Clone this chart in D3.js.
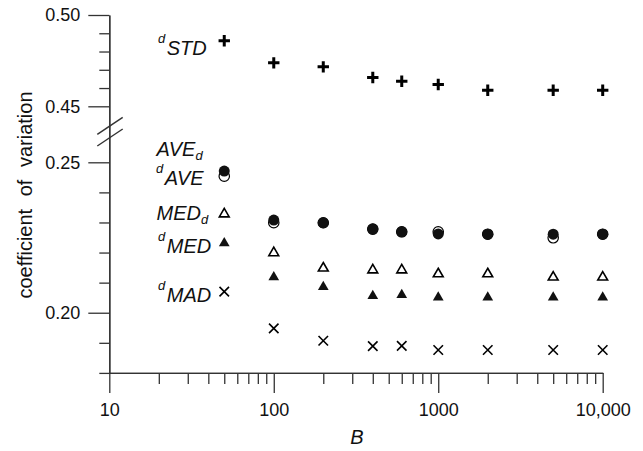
<!DOCTYPE html>
<html>
<head>
<meta charset="utf-8">
<script src="https://cdn.jsdelivr.net/npm/d3@7"></script>
<style>
body { margin: 0; background: #fff; }
svg text { font-family: Arial, "Liberation Sans", sans-serif; fill: #111; }
.axis path, .axis line { stroke: #333; stroke-width: 1.3; }
</style>
</head>
<body>
<svg width="643" height="451"></svg>
<script>
// bootstrap replicates B
var B = [50, 100, 200, 400, 600, 1000, 2000, 5000, 10000];

// coefficient of variation for each estimator
var dSTD = [0.4859, 0.4738, 0.4716, 0.4658, 0.4637, 0.4619, 0.4588, 0.4588, 0.4588];
var AVEd = [0.2471, 0.2308, 0.2299, 0.2278, 0.2269, 0.2262, 0.2261, 0.2261, 0.2261];
var dAVE = [0.2454, 0.2299, 0.2299, 0.2278, 0.2269, 0.2269, 0.2261, 0.2249, 0.2261];
var MEDd = [0.2328, 0.2199, 0.2148, 0.2142, 0.2142, 0.2129, 0.2129, 0.2118, 0.2118];
var dMED = [0.2231, 0.2118, 0.2086, 0.2056, 0.2059, 0.2051, 0.2051, 0.2051, 0.2051];
var dMAD = [0.2070, 0.1948, 0.1907, 0.1889, 0.1890, 0.1876, 0.1876, 0.1876, 0.1876];

var xTicks = [10, 100, 1000, 10000];
var xTickLabels = ["10", "100", "1000", "10,000"];
var yTicks = [0.20, 0.25, 0.45, 0.50];
var yMinorTicks = [0.18, 0.19, 0.21, 0.22, 0.23, 0.24, 0.46, 0.47, 0.48, 0.49];

var svg = d3.select("svg");

var x = d3.scaleLog().domain([10, 10000]).range([109.3, 602.7]);
// broken axis: lower part 0.18-0.25, upper part 0.45-0.50
var y = d3.scaleLinear()
    .domain([0.18, 0.25, 0.45, 0.50])
    .range([372.9, 162.3, 106.3, 15]);

var y0 = y(0.18);

// x axis, minor then major
var xMinor = x.ticks().filter(d => xTicks.indexOf(d) < 0);
svg.append("g").attr("class", "axis")
    .attr("transform", `translate(0,${y0})`)
    .call(d3.axisBottom(x).tickValues(xMinor).tickSize(11).tickSizeOuter(0).tickFormat(""));
var gx = svg.append("g").attr("class", "axis")
    .attr("transform", `translate(0,${y0})`)
    .call(d3.axisBottom(x).tickValues(xTicks).tickSize(20).tickSizeOuter(0).tickPadding(10)
        .tickFormat((d, i) => xTickLabels[i]));
gx.selectAll("text").attr("font-size", 18).attr("font-family", null);

// y axis
svg.append("g").attr("class", "axis")
    .attr("transform", "translate(109.3,0)")
    .call(d3.axisLeft(y).tickValues(yMinorTicks).tickSize(10).tickSizeOuter(0).tickFormat(""));
var gy = svg.append("g").attr("class", "axis")
    .attr("transform", "translate(109.3,0)")
    .call(d3.axisLeft(y).tickValues(yTicks).tickSize(21).tickSizeOuter(0).tickPadding(8)
        .tickFormat(d3.format(".2f")));
gy.selectAll("text").attr("font-size", 18).attr("font-family", null);

// break marks
var yb = (y(0.25) + y(0.45)) / 2;
[-8.5, 3.2].forEach(function(o) {
    svg.append("line")
        .attr("x1", 97.3).attr("y1", yb + o + 8.5)
        .attr("x2", 122.7).attr("y2", yb + o - 8.5)
        .attr("stroke", "#333").attr("stroke-width", 1.5);
});

// axis titles
svg.append("text")
    .attr("transform", "translate(32,195) rotate(-90)")
    .attr("text-anchor", "middle")
    .attr("font-size", 20)
    .attr("word-spacing", 7)
    .text("coefficient of variation");

svg.append("text")
    .attr("x", 357).attr("y", 444)
    .attr("text-anchor", "middle")
    .attr("font-size", 20)
    .attr("font-style", "italic")
    .text("B");

// marker shapes
var plus = { draw: function(c, s) { var r = Math.sqrt(s) / 2;
    c.moveTo(-r, 0); c.lineTo(r, 0); c.moveTo(0, -r); c.lineTo(0, r); } };
var cross = { draw: function(c, s) { var r = Math.sqrt(s) / 2;
    c.moveTo(-r, -r); c.lineTo(r, r); c.moveTo(-r, r); c.lineTo(r, -r); } };

var series = [
    { values: dSTD, sym: d3.symbol(plus, 130), fill: "none", stroke: "#000", sw: 3 },
    { values: dAVE, sym: d3.symbol(d3.symbolCircle, 85), fill: "#fff", stroke: "#000", sw: 1.2 },
    { values: AVEd, sym: d3.symbol(d3.symbolCircle, 95), fill: "#111", stroke: "none", sw: 0 },
    { values: MEDd, sym: d3.symbol(d3.symbolTriangle, 42), fill: "#fff", stroke: "#000", sw: 1.6 },
    { values: dMED, sym: d3.symbol(d3.symbolTriangle, 50), fill: "#111", stroke: "none", sw: 0 },
    { values: dMAD, sym: d3.symbol(cross, 90), fill: "none", stroke: "#000", sw: 1.6 }
];

series.forEach(function(s) {
    svg.append("g").selectAll("path")
        .data(B.map((b, i) => [b, s.values[i]]))
        .enter().append("path")
        .attr("transform", d => `translate(${x(d[0])},${y(d[1])})`)
        .attr("d", s.sym)
        .attr("fill", s.fill)
        .attr("stroke", s.stroke)
        .attr("stroke-width", s.sw);
});

// series labels, placed next to the B=50 markers
var labels = [
    { pre: "d", main: "STD", x: 158, y: 55 },
    { main: "AVE", post: "d", x: 156.5, y: 156 },
    { pre: "d", main: "AVE", x: 156, y: 185 },
    { main: "MED", post: "d", x: 156.5, y: 220 },
    { pre: "d", main: "MED", x: 158, y: 253.3 },
    { pre: "d", main: "MAD", x: 158, y: 301.7 }
];

labels.forEach(function(l) {
    var t = svg.append("text")
        .attr("x", l.x).attr("y", l.y)
        .attr("font-style", "italic")
        .attr("font-size", 20);
    if (l.pre) {
        t.append("tspan").attr("font-size", 13).attr("dy", -12).text(l.pre);
        t.append("tspan").attr("dx", 1.5).attr("dy", 12).text(l.main);
    } else {
        t.append("tspan").text(l.main);
        t.append("tspan").attr("font-size", 13).attr("dy", 4).text(l.post);
    }
});
</script>
</body>
</html>
